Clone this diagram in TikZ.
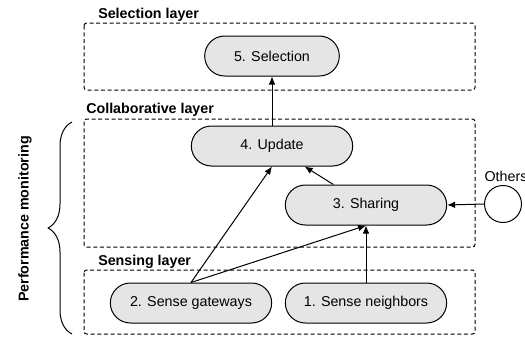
\documentclass[tikz,border=0pt]{standalone}
\usepackage{fontspec}
\setmainfont{Liberation Sans}
\usetikzlibrary{decorations.pathreplacing,arrows.meta}
\tikzset{
  step box/.style={draw,line width=0.75pt,fill=black!10,rounded corners=15pt,
    minimum height=30pt,inner sep=0pt,font=\fontsize{10.7}{13}\selectfont},
  layer box/.style={draw,line width=0.75pt,dash pattern=on 3pt off 2pt,rounded corners=2pt},
  layer name/.style={anchor=base west,inner sep=0pt,font=\fontsize{10.7}{13}\selectfont\bfseries},
  flow/.style={line width=0.75pt,-{Latex[length=6pt,width=5pt]}}
}
\begin{document}
\begin{tikzpicture}[x=0.75pt,y=-0.75pt,line join=round]
  \useasboundingbox (0,0) rectangle (525,337);
  % layers
  \draw[layer box] (84,23) rectangle (475,90);
  \draw[layer box] (84,119) rectangle (475,247);
  \draw[layer box] (84,270) rectangle (475,334);
  \node[layer name] at (98,18) {Selection layer};
  \node[layer name] at (86,113) {Collaborative layer};
  \node[layer name] at (98,265) {Sensing layer};
  % steps
  \node[step box,minimum width=101pt] (sel) at (272,56) {5. Selection};
  \node[step box,minimum width=121pt] (upd) at (272,146) {4. Update};
  \node[step box,minimum width=121pt] (share) at (366,205) {3. Sharing};
  \node[step box,minimum width=121pt] (gw) at (191,303) {2. Sense gateways};
  \node[step box,minimum width=121pt] (nb) at (366,303) {1. Sense neighbors};
  \node[draw,circle,line width=0.75pt,minimum size=27.75pt,inner sep=0pt] (oth) at (503,204) {};
  \node[inner sep=0pt,font=\fontsize{10.7}{13}\selectfont] (othname) at (506,176) {Others};
  % arrows
  \draw[flow] (upd.north) -- (sel.south);
  \draw[flow] (share) -- (upd);
  \draw[flow] (gw.north) -- (upd.south);
  \draw[flow] (gw.north) -- (share.south);
  \draw[flow] (nb.north) -- (share.south);
  \draw[flow] (oth.west) -- (share.east);
  % monitoring brace
  \draw[line width=0.75pt,decorate,decoration={brace,amplitude=18pt}] (72,334) -- (72,122);
  \node[rotate=90,inner sep=0pt,font=\fontsize{10.7}{13}\selectfont\bfseries] (perf) at (25,219) {Performance monitoring};
\end{tikzpicture}
\end{document}
